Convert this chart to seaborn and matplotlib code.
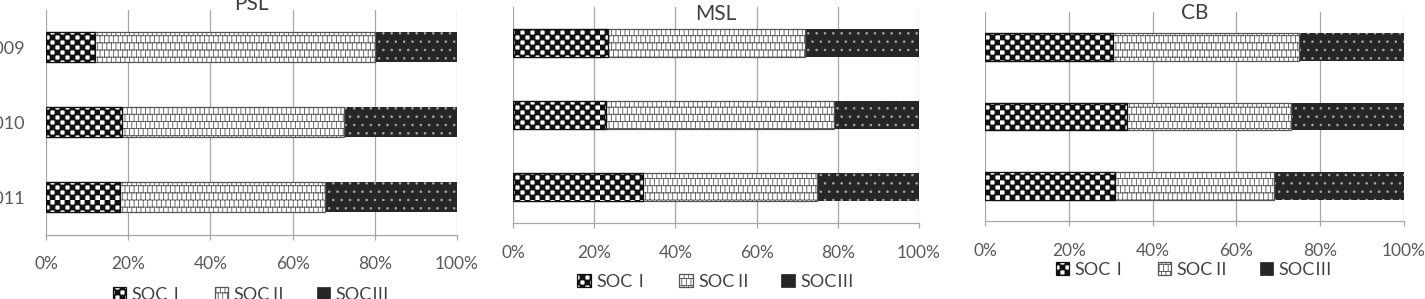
import numpy as np
import pandas as pd
import matplotlib
matplotlib.use('Agg')
import matplotlib.pyplot as plt
import matplotlib.hatch as mhatch
from matplotlib.path import Path
from matplotlib.patches import Patch
import seaborn as sns

# values (% of total SOC per year)
years = ['2009', '2010', '2011']
sites = ['PSL', 'MSL', 'CB']
classes = ['SOCⅠ', 'SOCⅡ', 'SOCⅢ']

soc1_psl = [12.0, 18.5, 18.0]
soc2_psl = [68.0, 54.0, 50.0]
soc3_psl = [20.0, 27.5, 32.0]
soc1_msl = [23.5, 23.0, 32.0]
soc2_msl = [48.5, 56.0, 43.0]
soc3_msl = [28.0, 21.0, 25.0]
soc1_cb = [30.5, 34.0, 31.0]
soc2_cb = [44.5, 39.0, 38.0]
soc3_cb = [25.0, 27.0, 31.0]


class CheckerHatch(mhatch.HatchPatternBase):
    # 'o' in a hatch string -> black/white checkerboard
    def __init__(self, hatch, density):
        self.n = 20 if 'o' in hatch else 0
        self.num_vertices = (self.n * self.n // 2) * 5

    def set_vertices_and_codes(self, vertices, codes):
        n = self.n
        k = 0
        for i in range(n):
            for j in range(n):
                if (i + j) % 2:
                    continue
                x0, y0, x1, y1 = i / n, j / n, (i + 1) / n, (j + 1) / n
                vertices[k:k + 5] = [[x0, y0], [x1, y0], [x1, y1], [x0, y1], [x0, y0]]
                codes[k:k + 5] = [Path.MOVETO, Path.LINETO, Path.LINETO,
                                  Path.LINETO, Path.CLOSEPOLY]
                k += 5


class BrickHatch(mhatch.HatchPatternBase):
    # 'O' in a hatch string -> brick wall lines
    def __init__(self, hatch, density):
        self.rows = 14 if 'O' in hatch else 0
        self.cols = 22
        if self.rows:
            self.num_vertices = 2 * (self.rows + 1) + 2 * self.rows * (self.cols + 1)
        else:
            self.num_vertices = 0

    def set_vertices_and_codes(self, vertices, codes):
        segs = []
        for i in range(self.rows + 1):
            y = i / self.rows
            segs.append([(0, y), (1, y)])
        for i in range(self.rows):
            shift = 0.5 * (i % 2)
            for k in range(self.cols + 1):
                x = (k + shift) / self.cols
                segs.append([(x, i / self.rows), (x, (i + 1) / self.rows)])
        vertices[:] = np.array(segs, dtype=float).reshape(-1, 2)
        codes[0::2] = Path.MOVETO
        codes[1::2] = Path.LINETO


mhatch._hatch_types[mhatch._hatch_types.index(mhatch.SmallCircles)] = CheckerHatch
mhatch._hatch_types[mhatch._hatch_types.index(mhatch.LargeCircles)] = BrickHatch

sns.set_style('white')
plt.rcParams['font.family'] = ['Lato', 'Noto Sans CJK SC', 'DejaVu Sans']
plt.rcParams['hatch.linewidth'] = 0.6

values = {
    'PSL': [soc1_psl, soc2_psl, soc3_psl],
    'MSL': [soc1_msl, soc2_msl, soc3_msl],
    'CB': [soc1_cb, soc2_cb, soc3_cb],
}
rows = []
for site in sites:
    v = np.array(values[site])
    cum = np.cumsum(v, axis=0)
    for c, cls in enumerate(classes):
        for y, year in enumerate(years):
            rows.append({'site': site, 'year': year, 'cls': cls, 'cum': cum[c, y]})
df = pd.DataFrame(rows)

styles = {
    'SOCⅠ': dict(facecolor='white', edgecolor='#111111', linewidth=0.9, hatch='o'),
    'SOCⅡ': dict(facecolor='white', edgecolor='#555555', linewidth=0.9, hatch='O'),
    'SOCⅢ': dict(facecolor='#262626', edgecolor='#a8a8a8', linewidth=0, hatch='..'),
}

positions = [(0.0323, 0.2157, 0.2884, 0.7525),
             (0.360, 0.2542, 0.2849, 0.7224),
             (0.6912, 0.2609, 0.294, 0.699)]
title_y = [1.0, 0.94, 0.966]
legend_y = [-0.27, -0.273, -0.234]
grid_col = '#a6a6a6'

fig = plt.figure(figsize=(14.25, 2.99), dpi=100)
for idx, site in enumerate(sites):
    ax = fig.add_axes(positions[idx])
    sub = df[df['site'] == site]
    for cls in classes[::-1]:
        n0 = len(ax.patches)
        sns.barplot(data=sub[sub['cls'] == cls], x='cum', y='year', order=years,
                    orient='h', width=0.4, color='white', saturation=1,
                    errorbar=None, ax=ax)
        for p in ax.patches[n0:]:
            p.set_facecolor(styles[cls]['facecolor'])
            p.set_edgecolor(styles[cls]['edgecolor'])
            p.set_linewidth(styles[cls]['linewidth'])
            p.set_hatch(styles[cls]['hatch'])

    ax.set_xlim(0, 100)
    ax.set_xticks(range(0, 101, 20))
    ax.set_xticklabels([f'{t}%' for t in range(0, 101, 20)])
    ax.set_xlabel('')
    ax.set_ylabel('')
    ax.grid(axis='x', color=grid_col, linewidth=0.9)
    ax.set_axisbelow(True)
    for s in ['top', 'right', 'left']:
        ax.spines[s].set_visible(False)
    ax.spines['bottom'].set_color(grid_col)
    ax.spines['bottom'].set_linewidth(0.9)
    ax.tick_params(axis='x', length=3.6, width=0.9, color=grid_col, pad=12,
                   labelsize=12.5, labelcolor='#595959', bottom=True)
    ax.tick_params(axis='y', length=0, pad=15, labelsize=13, labelcolor='#595959')
    if idx > 0:
        ax.set_yticklabels([])
    ax.set_title(site, y=title_y[idx], pad=0, fontsize=15, color='#404040')

    handles = [Patch(label=cls, **styles[cls]) for cls in classes]
    handles[2].set_linewidth(0.5)
    handles[2].set_edgecolor('#262626')
    leg = ax.legend(handles=handles, loc='center', bbox_to_anchor=(0.5, legend_y[idx]),
                    ncol=3, frameon=False, fontsize=13, handlelength=0.75,
                    handleheight=0.75, handletextpad=0.3, columnspacing=1.6)
    for t in leg.get_texts():
        t.set_color('#404040')

fig.savefig('out.png', dpi=100)
